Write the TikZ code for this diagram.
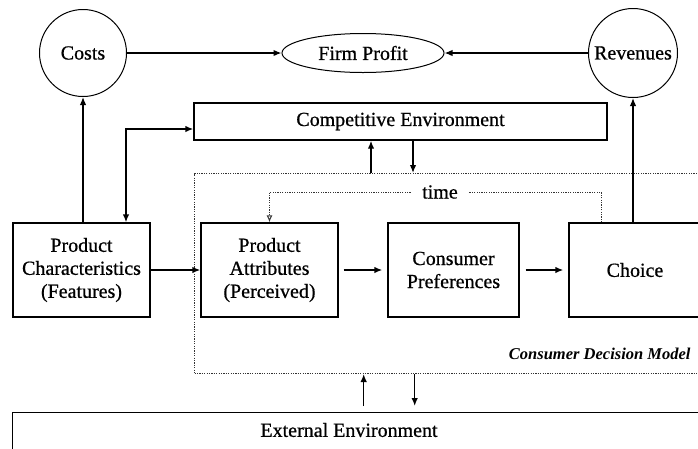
\documentclass[tikz,border=0pt]{standalone}
\usepackage{fontspec}
\setmainfont{Liberation Serif}
\newfontfamily\boxfont{Liberation Serif}[FakeBold=0.7]
\usetikzlibrary{arrows.meta,positioning,shapes.geometric}
\tikzset{
  blk/.style={draw, line width=1.4pt, minimum width=137pt, minimum height=94pt, align=center, inner sep=2pt},
  circ/.style={draw, circle, line width=1pt, minimum size=87pt, inner sep=0pt},
  flow/.style={-{Latex[length=8pt,width=6.5pt]}, line width=1.4pt},
  both/.style={{Latex[length=8pt,width=6.5pt]}-{Latex[length=8pt,width=6.5pt]}, line width=1.4pt},
  loose/.style={dash pattern=on 1.2pt off 1.2pt, line width=1pt, black!80},
  tag/.style={font=\fontsize{16.5}{18}\selectfont\bfseries\itshape},
}
\begin{document}
\begin{tikzpicture}[x=1pt, y=-1pt, font=\boxfont\fontsize{20}{23}\selectfont]
  \useasboundingbox (0,0) rectangle (698,448);
  \clip (0,0) rectangle (698,448);
  % top row
  \node[circ] (costs) at (83,53) {Costs};
  \node[draw, ellipse, line width=1pt, minimum width=162pt, minimum height=39pt, inner sep=0pt] (profit) at (363,53) {Firm Profit};
  \node[circ, minimum size=89pt] (rev) at (633,53) {Revenues};
  \node[blk, minimum width=413pt, minimum height=37pt] (comp) at (400.5,121.5) {Competitive Environment};

  % consumer decision model
  \node[loose, draw, minimum width=540pt, minimum height=200pt, anchor=north west] (cdm) at (194,173) {};
  \node[tag, anchor=east] (cdmlab) at (694,354) {Consumer Decision Model};

  \node[blk] (pc) at (81.5,270) {Product\\Characteristics\\(Features)};
  \node[blk] (pa) at (269.5,270) {Product\\Attributes\\(Perceived)};
  \node[blk, minimum width=131pt] (pref) at (453.5,270) {Consumer\\Preferences};
  \node[blk, minimum width=132pt] (choice) at (635,270) {Choice};

  % external environment
  \node[draw, line width=1.4pt, minimum width=720pt, minimum height=70pt, anchor=north west] (ext) at (12,412) {};
  \node (extlab) at (349,430) {External Environment};

  % connectors
  \draw[flow] (costs.east) -- (profit.west);
  \draw[flow] (rev.west) -- (profit.east);
  \draw[flow] (pc.north -| costs.south) -- (costs.south);
  \draw[both] ([xshift=44.5pt]pc.north) |- ([yshift=-7.5pt]comp.west);
  \draw[flow] (rev.south |- choice.north) -- (rev.south);

  \coordinate (cu) at ([xshift=-29.5pt]comp.south);
  \coordinate (cd) at ([xshift=12.5pt]comp.south);
  \draw[flow] (cu |- cdm.north) -- (cu);
  \draw[flow] (cd) -- (cd |- cdm.north);

  \coordinate (eu) at ([xshift=-9pt]ext.north);
  \coordinate (ed) at ([xshift=42pt]ext.north);
  \draw[flow, shorten <=6pt] (eu) -- (eu |- cdm.south);
  \draw[flow, shorten >=6pt] (ed |- cdm.south) -- (ed);

  \draw[flow] (pc) -- (pa);
  \draw[flow, shorten <=5pt, shorten >=5pt] (pa) -- (pref);
  \draw[flow, shorten <=6pt, shorten >=5pt] (pref) -- (choice);

  % time loop
  \coordinate (tl) at ([xshift=-34pt]choice.north);
  \draw[loose, -{Latex[open, length=7pt, width=6pt]}] (tl) -- (tl |- 0,192) -| (pa.north);
  \node[fill=white, inner xsep=10pt, inner ysep=1pt] (time) at (440,192) {time};
\end{tikzpicture}
\end{document}
